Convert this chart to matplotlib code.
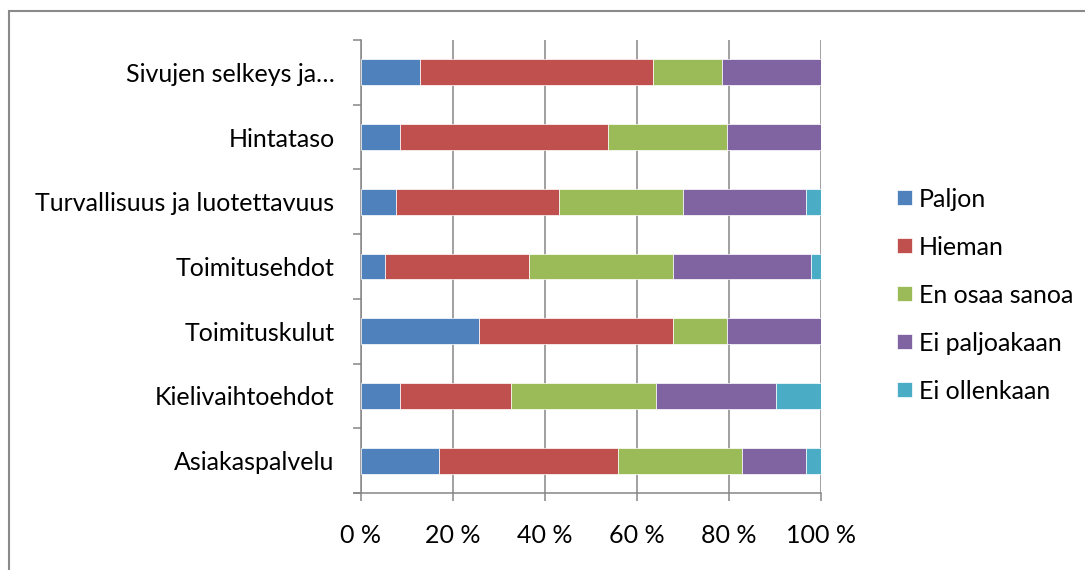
import numpy as np
import matplotlib
matplotlib.use("Agg")
import matplotlib.pyplot as plt
from matplotlib.patches import Rectangle
from matplotlib.ticker import FixedLocator, FuncFormatter

plt.rcParams["font.family"] = ["Lato", "DejaVu Sans"]

# Survey data: share of answers (%) per topic, listed top to bottom
categories = [
    "Sivujen selkeys ja…",
    "Hintataso",
    "Turvallisuus ja luotettavuus",
    "Toimitusehdot",
    "Toimituskulut",
    "Kielivaihtoehdot",
    "Asiakaspalvelu",
]
series_names = ["Paljon", "Hieman", "En osaa sanoa", "Ei paljoakaan", "Ei ollenkaan"]
paljon = [12.8, 8.5, 7.5, 5.3, 25.7, 8.5, 17.0]
hieman = [50.7, 45.2, 35.5, 31.3, 42.1, 24.1, 38.9]
en_osaa_sanoa = [15.0, 25.9, 26.9, 31.2, 11.8, 31.5, 26.9]
ei_paljoakaan = [21.5, 20.4, 26.8, 30.1, 20.4, 26.1, 13.9]
ei_ollenkaan = [0.0, 0.0, 3.3, 2.1, 0.0, 9.8, 3.3]
x_ticks = [0, 20, 40, 60, 80, 100]

colors = ["#4F81BD", "#C0504D", "#9BBB59", "#8064A2", "#4BACC6"]
grid_col = "#868686"
fs = 18

fig = plt.figure(figsize=(10.85, 5.7), dpi=100)
ax = fig.add_axes([361 / 1085, 1 - 493 / 570, 460 / 1085, 453 / 570])

y = np.arange(len(categories))
left = np.zeros(len(categories))
for name, vals, col in zip(series_names,
                           [paljon, hieman, en_osaa_sanoa, ei_paljoakaan, ei_ollenkaan],
                           colors):
    vals = np.array(vals)
    ax.barh(y, vals, left=left, height=0.4, color=col, edgecolor="white",
            linewidth=0.5, label=name, zorder=3)
    left += vals

ax.set_xlim(0, 100)
ax.set_ylim(len(categories) - 0.5, -0.5)

# value axis: vertical gridlines and ticks
ax.xaxis.set_major_locator(FixedLocator(x_ticks))
ax.xaxis.set_major_formatter(FuncFormatter(lambda v, p: f"{int(v)} %"))
ax.grid(axis="x", color=grid_col, linewidth=1.1, zorder=0)
ax.tick_params(axis="x", length=6, width=1.1, color=grid_col,
               labelsize=fs, pad=16)

# category axis: labels at centres, tick marks at band edges
ax.set_yticks(y)
ax.set_yticklabels(categories)
ax.set_yticks(np.arange(len(categories) + 1) - 0.5, minor=True)
ax.tick_params(axis="y", which="major", length=0, labelsize=fs, pad=19)
ax.tick_params(axis="y", which="minor", length=6, width=1.1, color=grid_col)

for side in ["top", "right"]:
    ax.spines[side].set_visible(False)
for side in ["left", "bottom"]:
    ax.spines[side].set_color(grid_col)
    ax.spines[side].set_linewidth(1.1)

# extend the bottom axis line under the left tick
ax.plot([-7 / 4.6, 0], [len(categories) - 0.5] * 2, color=grid_col,
        linewidth=1.1, clip_on=False, zorder=2)

fig.legend(loc="center left", bbox_to_anchor=(897 / 1085, 1 - 295 / 570),
           frameon=False, fontsize=fs, handlelength=0.58, handleheight=0.58,
           handletextpad=0.3, labelspacing=1.0, borderpad=0, borderaxespad=0)

# chart frame
fig.patches.append(Rectangle((9 / 1085, -0.1), 1.2, 1 - 11 / 570 + 0.1,
                             transform=fig.transFigure, fill=False,
                             edgecolor="#8a8a8a", linewidth=1.5))

fig.savefig("out.png", dpi=100)
